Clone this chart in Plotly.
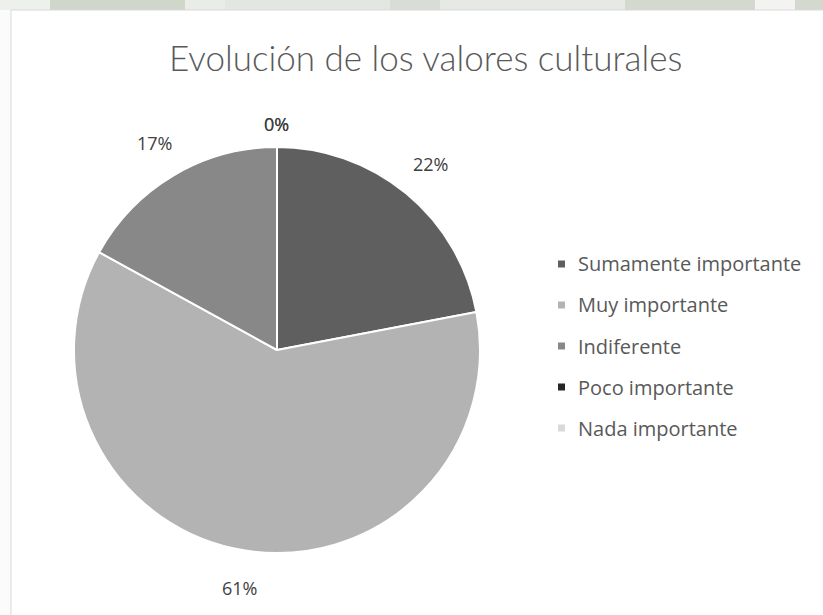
import math
import plotly.graph_objects as go

W, H = 823, 615

# Survey categories and their shares (percent)
categories = ["Sumamente importante", "Muy importante", "Indiferente",
              "Poco importante", "Nada importante"]
shares = [22, 61, 17, 0, 0]
colors = ["#5f5f5f", "#b3b3b3", "#888888", "#262626", "#d9d9d9"]
title_text = "Evolución de los valores culturales"

FONT = "Open Sans"
TEXT_COLOR = "#404040"
LEGEND_COLOR = "#595959"


def fx(x):
    return x / W


def fy(y):
    return 1 - y / H


# pie geometry (pixels)
cx, cy, r = 277, 350, 203

fig = go.Figure(go.Pie(
    labels=categories,
    values=shares,
    marker=dict(colors=colors, line=dict(color="white", width=2)),
    sort=False,
    direction="clockwise",
    rotation=0,
    textinfo="none",
    hoverinfo="label+percent",
    showlegend=False,
    domain=dict(x=[fx(cx - r), fx(cx + r)], y=[fy(cy + r), fy(cy - r)]),
))

annotations = []
shapes = []

# percentage labels placed outside each slice at its mid-angle
total = sum(shares)
cum = 0
for val in shares:
    mid = (cum + val / 2) / total * 2 * math.pi
    cum += val
    off = 38 if val > 0 else 23
    lx = cx + (r + off) * math.sin(mid)
    ly = cy - (r + off) * math.cos(mid)
    annotations.append(dict(
        x=fx(lx), y=fy(ly), xref="paper", yref="paper",
        text=f"{round(val / total * 100)}%", showarrow=False,
        xanchor="center", yanchor="middle",
        font=dict(family=FONT, size=18, color=TEXT_COLOR),
    ))

# legend: colour swatches with category names
leg_x, leg_y0, leg_dy = 561.5, 264, 41
for i, (name, col) in enumerate(zip(categories, colors)):
    y = leg_y0 + i * leg_dy
    shapes.append(dict(
        type="rect", xref="paper", yref="paper",
        x0=fx(leg_x - 3.5), x1=fx(leg_x + 3.5), y0=fy(y + 3.5), y1=fy(y - 3.5),
        fillcolor=col, line=dict(width=0),
    ))
    annotations.append(dict(
        x=fx(leg_x + 14), y=fy(y), xref="paper", yref="paper",
        text=name, showarrow=False, xanchor="left", yanchor="middle",
        font=dict(family=FONT, size=20, color=LEGEND_COLOR),
    ))

# title
annotations.append(dict(
    x=fx(425), y=fy(57), xref="paper", yref="paper",
    text=title_text, showarrow=False, xanchor="center", yanchor="middle",
    font=dict(family="Lato", size=35, color=LEGEND_COLOR, weight=300),
))

# page backdrop strip above the chart frame
bands = [(0, 50, "#eef0ec"), (50, 185, "#cfd6ca"), (185, 225, "#e9ece7"),
         (225, 390, "#e3e7e1"), (390, 440, "#d8ddd5"), (440, 625, "#e6e9e4"),
         (625, 755, "#d3d9cf"), (755, 795, "#f3f4f2"), (795, W, "#d3d9cf")]
backdrop = [dict(type="rect", xref="paper", yref="paper",
                 x0=fx(a), x1=fx(b), y0=fy(10), y1=1,
                 fillcolor=c, line=dict(width=0), layer="below")
            for a, b, c in bands]
# chart frame
backdrop.append(dict(type="rect", xref="paper", yref="paper",
                     x0=fx(11), x1=fx(W + 5), y0=fy(H + 5), y1=fy(10),
                     fillcolor="white", line=dict(color="#d9d9d9", width=1),
                     layer="below"))

fig.update_layout(
    width=W, height=H,
    margin=dict(l=0, r=0, t=0, b=0),
    paper_bgcolor="#fbfbfb",
    annotations=annotations,
    shapes=backdrop + shapes,
    showlegend=False,
)

fig.write_html("out.html")
